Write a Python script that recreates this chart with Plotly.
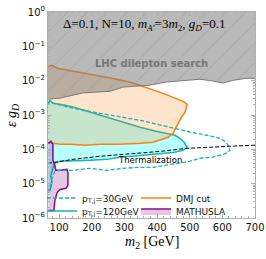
import plotly.graph_objects as go

# ---------------- data ----------------
EPS_MAX = 1.0  # upper edge of the LHC exclusion (axis top)

lhc_m = [66, 103, 173, 256, 296, 326, 378, 427, 479, 531, 571, 602, 632, 672, 700]
lhc_eps = [2.9e-3, 3.1e-3, 4.4e-3, 4.9e-3, 6.5e-3, 6.9e-3, 7.4e-3, 9.1e-3,
           1.02e-2, 1.1e-2, 9.8e-3, 8.5e-3, 1.02e-2, 1.17e-2, 1.17e-2]

dmj_m = [66, 78, 94, 124, 173, 225, 277, 326, 363, 394, 427, 455, 480, 492, 489, 486,
         476, 470, 461, 455, 449, 434, 409, 388, 348, 286, 225, 179, 133, 103, 81, 72, 66]
dmj_eps = [2.47e-2, 2.83e-2, 2.3e-2, 2.03e-2, 1.66e-2, 1.35e-2, 1.1e-2, 8.5e-3, 6.5e-3,
           5.3e-3, 4.0e-3, 3.1e-3, 2.5e-3, 2.05e-3, 1.58e-3, 1.2e-3, 9.1e-4, 7.0e-4,
           5.0e-4, 3.6e-4, 2.95e-4, 2.24e-4, 1.82e-4, 1.6e-4, 1.5e-4, 1.4e-4, 1.4e-4,
           1.32e-4, 1.4e-4, 1.4e-4, 1.5e-4, 1.6e-4, 1.5e-4]

pt120_m = [66, 72, 81, 103, 143, 195, 247, 296, 348, 394, 430, 455, 470, 483, 492,
           480, 449, 409, 348, 286, 247, 195, 143, 103, 87, 81, 75, 78, 72, 66]
pt120_eps = [2.2e-3, 2.7e-3, 2.2e-3, 2.05e-3, 1.7e-3, 1.2e-3, 8.5e-4, 6.2e-4, 4.4e-4,
             3.4e-4, 2.95e-4, 2.57e-4, 2.1e-4, 1.6e-4, 1.15e-4,
             9.3e-5, 8.1e-5, 7.6e-5, 6.6e-5, 5.9e-5, 5.1e-5, 4.8e-5, 4.5e-5, 4.5e-5,
             3.9e-5, 2.8e-5, 1.7e-5, 1.1e-5, 6.3e-6, 5.5e-6]

pt30_m = [66, 72, 81, 143, 225, 296, 348, 400, 449, 501, 553, 593, 608, 617, 623,
          611, 571, 531, 501, 458, 409, 388, 348, 296, 247, 195, 143, 103, 87, 78, 72, 66]
pt30_eps = [2.05e-3, 2.5e-3, 2.2e-3, 1.58e-3, 1.12e-3, 8.5e-4, 7.0e-4, 5.4e-4, 4.1e-4,
            3.2e-4, 2.57e-4, 2.1e-4, 1.7e-4, 1.32e-4, 9.3e-5,
            7.6e-5, 5.9e-5, 5.5e-5, 4.5e-5, 3.9e-5, 3.2e-5, 3.0e-5, 3.0e-5, 2.8e-5,
            2.45e-5, 2.8e-5, 2.45e-5, 2.45e-5, 2.3e-5, 1.4e-5, 8.3e-6, 6.3e-6]

math_m = [67, 75, 81, 81, 81, 87, 90, 103, 124, 127, 127, 121, 103, 94, 87, 84, 67]
math_eps = [1.5e-4, 1.7e-4, 1.4e-4, 8.1e-5, 4.8e-5, 3.4e-5, 2.45e-5, 2.45e-5, 2.6e-5,
            2.1e-5, 8.9e-6, 7.3e-6, 6.8e-6, 5.5e-6, 3.2e-6, 1.66e-6, 1.66e-6]

therm_m = [66, 103, 143, 225, 326, 409, 492, 531, 623, 700]
therm_eps = [3.9e-5, 4.5e-5, 5.1e-5, 6.3e-5, 7.6e-5, 8.7e-5, 1.07e-4, 1.1e-4, 1.23e-4, 1.32e-4]

y_tickvals = [1e-6, 1e-5, 1e-4, 1e-3, 1e-2, 1e-1, 1]
y_ticktext = ["10<sup>\u22126</sup>", "10<sup>\u22125</sup>", "10<sup>\u22124</sup>",
              "10<sup>\u22123</sup>", "10<sup>\u22122</sup>", "10<sup>\u22121</sup>",
              "10<sup>0</sup>"]
x_tickvals = [100, 200, 300, 400, 500, 600, 700]

# ---------------- styles ----------------
TEAL = "#14b4b8"
ORANGE = "#ff7f0e"
PURPLE = "#8b0a8b"
SANS = "DejaVu Sans"
SERIF = "Liberation Serif"

fig = go.Figure()

# pT,j = 120 GeV region (cyan fill)
fig.add_trace(go.Scatter(x=pt120_m, y=pt120_eps, fill="toself",
                         fillcolor="rgba(0,255,255,0.28)", mode="lines",
                         line=dict(width=0), showlegend=False, hoverinfo="skip"))
fig.add_trace(go.Scatter(x=pt120_m, y=pt120_eps, mode="lines",
                         line=dict(color=TEAL, width=1.5),
                         name="p<sub>T,j</sub>=120GeV", legend="legend2"))

# DMJ cut region
fig.add_trace(go.Scatter(x=dmj_m, y=dmj_eps, fill="toself",
                         fillcolor="rgba(255,127,14,0.21)", mode="lines",
                         line=dict(width=0), showlegend=False, hoverinfo="skip"))
fig.add_trace(go.Scatter(x=dmj_m, y=dmj_eps, mode="lines",
                         line=dict(color=ORANGE, width=1.5),
                         name="DMJ cut", legend="legend3"))

# LHC dilepton search (gray, hatched)
fig.add_trace(go.Scatter(x=lhc_m, y=[EPS_MAX] * len(lhc_m), mode="lines",
                         line=dict(width=0), showlegend=False, hoverinfo="skip"))
fig.add_trace(go.Scatter(x=lhc_m, y=lhc_eps, mode="lines", fill="tonexty",
                         fillcolor="rgba(128,128,128,0.55)",
                         fillpattern=dict(shape="/", fillmode="overlay",
                                          fgcolor="#6e6e6e", fgopacity=0.35,
                                          size=14, solidity=0.05),
                         line=dict(color="#7a7a7a", width=1),
                         showlegend=False, hoverinfo="skip"))

# MATHUSLA
fig.add_trace(go.Scatter(x=math_m, y=math_eps, fill="toself",
                         fillcolor="rgba(128,0,128,0.22)", mode="lines",
                         line=dict(color=PURPLE, width=1.5),
                         name="MATHUSLA", legend="legend4"))

# pT,j = 30 GeV (dashed contour)
fig.add_trace(go.Scatter(x=pt30_m, y=pt30_eps, mode="lines",
                         line=dict(color=TEAL, width=1.3, dash="4px,2px"),
                         name="p<sub>T,j</sub>=30GeV", legend="legend"))

# Thermalization
fig.add_trace(go.Scatter(x=therm_m, y=therm_eps, mode="lines",
                         line=dict(color="black", width=1, dash="4px,2px"),
                         showlegend=False, hoverinfo="skip"))

axis_common = dict(showline=True, linecolor="#b0b0b0", linewidth=1, mirror="allticks",
                   ticks="inside", ticklen=4, tickcolor="#b0b0b0", showgrid=False,
                   zeroline=False, tickfont=dict(family=SANS, size=10, color="#111"))

fig.update_xaxes(range=[66, 700], tickmode="array", tickvals=x_tickvals,
                 minor=dict(ticks="inside", ticklen=2, dtick=20, tick0=0,
                            tickcolor="#b0b0b0", showgrid=False),
                 **axis_common)
fig.update_yaxes(type="log", range=[-6, 0], tickmode="array", tickvals=y_tickvals,
                 ticktext=y_ticktext,
                 minor=dict(ticks="inside", ticklen=2, dtick="D1",
                            tickcolor="#b0b0b0", showgrid=False),
                 **axis_common)


def leg(x, y):
    return dict(x=x, y=y, xanchor="left", yanchor="middle", itemwidth=30,
                bgcolor="rgba(0,0,0,0)", borderwidth=0,
                font=dict(family=SANS, size=9, color="#111"))


fig.update_layout(
    width=266, height=259,
    margin=dict(l=48, r=11, t=12, b=41, autoexpand=False),
    plot_bgcolor="white", paper_bgcolor="white",
    showlegend=True,
    legend=leg(-0.029, 0.097),
    legend2=leg(-0.029, 0.034),
    legend3=leg(0.425, 0.097),
    legend4=leg(0.425, 0.034),
    annotations=[
        dict(text="\u0394=0.1, N=10, <i>m</i><sub><i>A'</i></sub>=3<i>m</i><sub>2</sub>, "
                  "<i>g</i><sub><i>D</i></sub>=0.1",
             xref="paper", yref="paper", x=0.065, y=0.99, xanchor="left", yanchor="top",
             showarrow=False, font=dict(family=SERIF, size=13, color="black")),
        dict(text="<b>LHC dilepton search</b>", xref="paper", yref="paper",
             x=0.5, y=0.752, xanchor="center", yanchor="middle", showarrow=False,
             font=dict(family=SANS, size=10, color="#767676")),
        dict(text="Thermalization", xref="paper", yref="paper", x=0.495, y=0.282,
             xanchor="center", yanchor="middle", showarrow=False,
             font=dict(family=SANS, size=8.5, color="black")),
        dict(text="<i>m</i><sub>2</sub> [GeV]", xref="paper", yref="paper",
             x=0.5, y=-0.12, xanchor="center", yanchor="middle", showarrow=False,
             font=dict(family=SERIF, size=14, color="black")),
        dict(text="<i>\u03b5 g</i><sub><i>D</i></sub>", xref="paper", yref="paper",
             x=-0.174, y=0.5, xanchor="center", yanchor="middle", textangle=-90,
             showarrow=False, font=dict(family=SERIF, size=14, color="black")),
    ],
)

# remove the browser's default page margin so the figure sits at the window origin,
# and hide the mode bar
fig.write_html("out.html", config={"displayModeBar": False},
               post_script="document.body.style.margin='0';")
